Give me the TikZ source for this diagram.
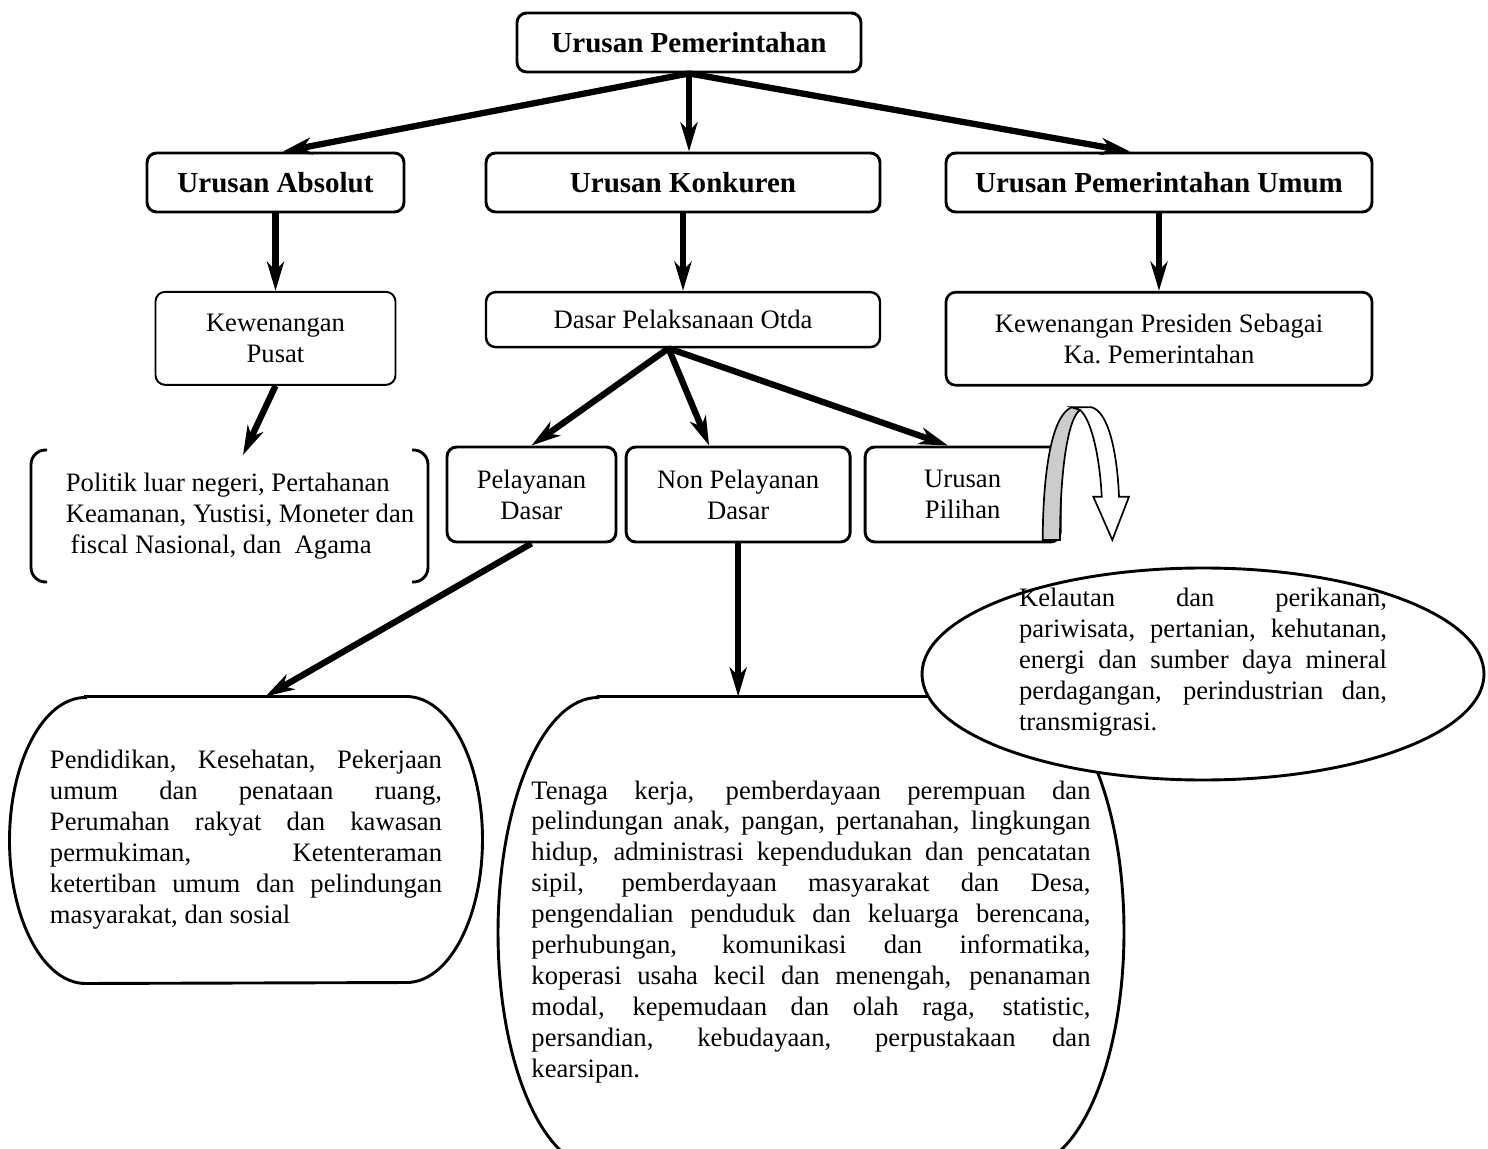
\documentclass[tikz,border=0pt]{standalone}
\usepackage{fontspec}
\setmainfont{Liberation Serif}
\usetikzlibrary{positioning,calc,arrows.meta,shapes.geometric}
\newcommand{\pxl}{0.4132pt}
\newcommand{\fhd}{\fontsize{12}{14}\selectfont\bfseries}
\newcommand{\fbd}{\fontsize{11}{12.8}\selectfont\hyphenpenalty=10000 }

\begin{document}
\begin{tikzpicture}[x=\pxl, y=\pxl,
	bx/.style={draw, rounded corners=4pt, line width=1pt, align=center, font=\fbd, inner sep=0pt},
	hd/.style={bx, line width=1.2pt, font=\fhd, minimum height=59*\pxl},
	ar/.style={line width=2.6pt, -{Stealth[length=12pt,width=7pt,inset=3.5pt]}},
	brk/.style={line width=1.2pt, rounded corners=6pt},
	tb/.style={line width=1.2pt},
	isi/.style={font=\fbd, align=justify, inner sep=0pt}]
	\useasboundingbox (0,0) rectangle (1488,-1149);
	%atas
	\node(u0)[hd, minimum width=344*\pxl] at (689,-42.5){Urusan Pemerintahan};
	\node(ua)[hd, minimum width=257*\pxl] at (275.5,-182.5){Urusan Absolut};
	\node(uk)[hd, minimum width=394*\pxl] at (683,-182.5){Urusan Konkuren};
	\node(uu)[hd, minimum width=426*\pxl] at (1159,-182.5){Urusan Pemerintahan Umum};
	\draw[ar] (u0.south) -- ([xshift=3pt]ua.north);
	\draw[ar] (u0.south) -- (u0.south |- uk.north);
	\draw[ar] (u0.south) -- ([xshift=-12pt]uu.north);
	%tengah
	\node(kp)[bx, line width=0.8pt, minimum width=240*\pxl, minimum height=93*\pxl, below=32pt of ua]{Kewenangan\\Pusat};
	\node(dp)[bx, minimum width=394*\pxl, minimum height=55*\pxl, below=32pt of uk]{Dasar Pelaksanaan Otda};
	\node(kpr)[bx, line width=1.1pt, minimum width=426*\pxl, minimum height=93*\pxl, below=32pt of uu]{Kewenangan Presiden Sebagai\\Ka.\ Pemerintahan};
	\draw[ar] (ua.south) -- (ua.south |- kp.north);
	\draw[ar] (uk.south) -- (uk.south |- dp.north);
	\draw[ar] (uu.south) -- (uu.south |- kpr.north);
	%kiri
	\node(pl)[font=\fbd, align=left, inner sep=0pt] at (240,-516){Politik luar negeri, Pertahanan\\Keamanan, Yustisi, Moneter dan\\\hspace*{2pt}fiscal Nasional, dan\ \ Agama};
	\draw[brk] (47,-450) -| (31,-582) -- (47,-582);
	\draw[brk] (412,-450) -| (428,-582) -- (412,-582);
	\coordinate (plt) at (243,-455);
	\draw[ar] (kp.south) -- (plt);
	%bawah
	\node(pd)[bx, line width=1.2pt, minimum width=169*\pxl, minimum height=95*\pxl] at (531.5,-494.5){Pelayanan\\Dasar};
	\node(np)[bx, line width=1.2pt, minimum width=224*\pxl, minimum height=95*\pxl, right=3pt of pd]{Non Pelayanan\\Dasar};
	\node(up)[bx, line width=1.2pt, minimum width=195*\pxl, minimum height=95*\pxl, right=5pt of np]{Urusan\\Pilihan};
	\draw[ar] ([xshift=-6pt]dp.south) -- (pd.north);
	\draw[ar] ([xshift=-6pt]dp.south) -- ([xshift=-12pt]np.north);
	\draw[ar] ([xshift=-6pt]dp.south) -- ([xshift=-6pt]up.north);
	%panah lengkung
	\filldraw[line width=0.7pt, fill=white] (1071.7,-407.3) -- (1091.7,-407.3) .. controls (1108,-412) and (1117,-450) .. (1119,-496.7) -- (1129,-496.7) -- (1112.3,-540) -- (1093.3,-496.7) -- (1101.7,-496.7) .. controls (1100,-460) and (1092,-420) .. (1080,-410) -- cycle;
	\filldraw[line width=0.7pt, fill=gray!40] (1042.7,-540) .. controls (1043,-470) and (1052,-415) .. (1071.7,-407.3) -- (1080,-410) .. controls (1068,-418) and (1060,-470) .. (1060,-540) -- cycle;
	%isi kiri
	\node(pk)[isi, text width=162pt, minimum width=472*\pxl, minimum height=286*\pxl] at (246,-840){Pendidikan, Kesehatan, Pekerjaan\linebreak umum dan penataan ruang,\linebreak Perumahan rakyat dan kawasan\linebreak permukiman, Ketenteraman\linebreak ketertiban umum dan pelindungan\linebreak masyarakat, dan sosial};
	\draw[tb] ($(pk.north west)+(76,0)$) -- ($(pk.north east)+(-76,0)$) arc[start angle=90, end angle=-90, x radius=76, y radius=143] -- ($(pk.south west)+(76,0)$) arc[start angle=270, end angle=90, x radius=76, y radius=143] -- cycle;
	\draw[ar] (pd.south) -- ([xshift=8pt]pk.north);
	%isi tengah
	\node(md)[isi, text width=231pt, minimum width=625*\pxl, minimum height=470*\pxl] at (811,-932){Tenaga kerja, pemberdayaan perempuan dan\linebreak pelindungan anak, pangan, pertanahan, lingkungan\linebreak hidup, administrasi kependudukan dan pencatatan\linebreak sipil, pemberdayaan masyarakat dan Desa,\linebreak pengendalian penduduk dan keluarga berencana,\linebreak perhubungan, komunikasi dan informatika,\linebreak koperasi usaha kecil dan menengah, penanaman\linebreak modal, kepemudaan dan olah raga, statistic,\linebreak persandian, kebudayaan, perpustakaan dan\linebreak kearsipan.};
	\draw[tb] ($(md.north west)+(100,0)$) -- ($(md.north east)+(-100,0)$) arc[start angle=90, end angle=-90, x radius=100, y radius=235] -- ($(md.south west)+(100,0)$) arc[start angle=270, end angle=90, x radius=100, y radius=235] -- cycle;
	\draw[ar] (np.south) -- (np.south |- md.north);
	%isi kanan
	\coordinate (klc) at (1203,-674);
	\filldraw[tb, fill=white] (klc) ellipse [x radius=281, y radius=106];
	\node(kl)[isi, text width=152pt] at ($(klc)+(0,12)$){Kelautan dan perikanan,\linebreak pariwisata, pertanian, kehutanan,\linebreak energi dan sumber daya mineral\linebreak perdagangan, perindustrian dan,\linebreak transmigrasi.};
\end{tikzpicture}
\end{document}
